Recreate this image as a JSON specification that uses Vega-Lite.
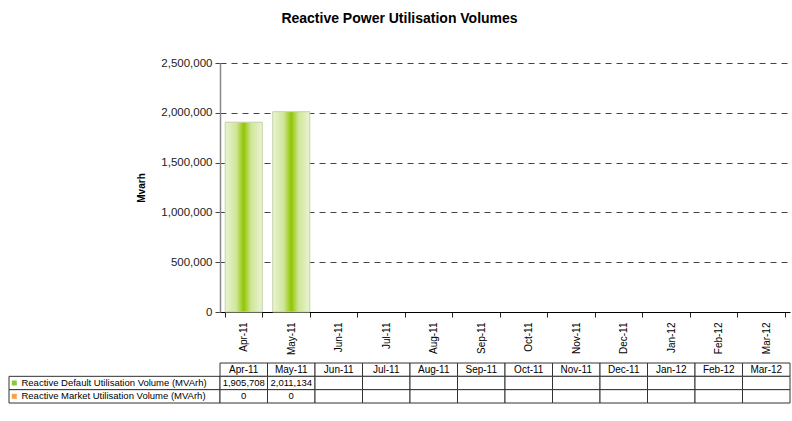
{
  "$schema": "https://vega.github.io/schema/vega-lite/v6.json",
  "padding": {"left": 8, "top": 12, "right": 2, "bottom": 4},
  "background": "white",
  "title": {"text": "Reactive Power Utilisation Volumes", "fontSize": 14, "fontWeight": "bold", "anchor": "middle", "frame": "bounds", "color": "#000", "offset": 31},
  "datasets": {
    "months": [
      {"month": "Apr-11", "default": 1905708, "market": 0},
      {"month": "May-11", "default": 2011134, "market": 0},
      {"month": "Jun-11"},
      {"month": "Jul-11"},
      {"month": "Aug-11"},
      {"month": "Sep-11"},
      {"month": "Oct-11"},
      {"month": "Nov-11"},
      {"month": "Dec-11"},
      {"month": "Jan-12"},
      {"month": "Feb-12"},
      {"month": "Mar-12"}
    ],
    "rows": [
      {"row": "default", "label": "Reactive Default Utilisation Volume (MVArh)"},
      {"row": "market", "label": "Reactive Market Utilisation Volume (MVArh)"}
    ]
  },
  "columns": 2,
  "spacing": {"column": 0, "row": 51},
  "bounds": "flush",
  "concat": [
    {
      "width": 211,
      "height": 249,
      "data": {"values": [{"t": ""}]},
      "mark": {"type": "text"},
      "encoding": {"text": {"field": "t"}}
    },
    {
      "width": 570,
      "height": 249,
      "data": {"name": "months"},
      "mark": {
        "type": "bar",
        "fill": {"gradient": "linear", "x1": 0, "y1": 0, "x2": 1, "y2": 0,
          "stops": [
            {"offset": 0, "color": "#eaf4d2"},
            {"offset": 0.3, "color": "#cfe699"},
            {"offset": 0.5, "color": "#92c500"},
            {"offset": 0.7, "color": "#cfe699"},
            {"offset": 1, "color": "#eaf4d2"}
          ]},
        "stroke": "#c6d0aa",
        "strokeWidth": 1
      },
      "encoding": {
        "x": {
          "field": "month", "type": "ordinal",
          "scale": {"domain": ["Apr-11","May-11","Jun-11","Jul-11","Aug-11","Sep-11","Oct-11","Nov-11","Dec-11","Jan-12","Feb-12","Mar-12"], "paddingInner": 0.22, "paddingOuter": 0.11},
          "axis": {"title": null, "labelAngle": -90, "tickBand": "extent", "tickSize": 5, "tickColor": "#222", "domainColor": "#000", "labelFontSize": 10, "labelPadding": 5, "labelColor": "#000", "grid": false}
        },
        "y": {
          "field": "default", "type": "quantitative",
          "scale": {"domain": [0, 2500000]},
          "axis": {"title": "Mvarh", "values": [0, 500000, 1000000, 1500000, 2000000, 2500000], "format": ",.0f", "grid": true, "gridDash": [6, 5], "gridColor": "#444", "domainColor": "#888", "domainWidth": 1.5, "tickColor": "#444", "tickSize": 5, "labelFontSize": 11.5, "labelColor": "#222", "labelPadding": 3, "titleFontSize": 10, "titleFontWeight": "bold", "titleColor": "#000", "titlePadding": 14}
        }
      }
    },
    {
      "width": 211,
      "height": 40,
      "data": {"name": "rows"},
      "encoding": {
        "y": {"field": "row", "type": "ordinal", "scale": {"domain": ["header", "default", "market"], "paddingInner": 0, "paddingOuter": 0}, "axis": null}
      },
      "layer": [
        {"mark": {"type": "rect", "fill": "white", "stroke": "#333", "strokeWidth": 1}},
        {
          "mark": {"type": "square", "size": 25, "opacity": 1, "filled": true},
          "encoding": {
            "x": {"datum": 5.5, "type": "quantitative", "scale": {"domain": [0, 211]}, "axis": null},
            "color": {"field": "row", "type": "nominal", "scale": {"domain": ["default", "market"], "range": ["#8fc63a", "#f4a24c"]}, "legend": null}
          }
        },
        {
          "mark": {"type": "text", "align": "left", "fontSize": 9.5, "color": "#000"},
          "encoding": {
            "x": {"datum": 13, "type": "quantitative"},
            "text": {"field": "label"}
          }
        }
      ]
    },
    {
      "width": 570,
      "height": 40,
      "data": {"name": "months"},
      "encoding": {
        "x": {"field": "month", "type": "ordinal", "scale": {"domain": ["Apr-11","May-11","Jun-11","Jul-11","Aug-11","Sep-11","Oct-11","Nov-11","Dec-11","Jan-12","Feb-12","Mar-12"], "paddingInner": 0, "paddingOuter": 0}, "axis": null}
      },
      "layer": [
        {
          "mark": {"type": "rect", "fill": "white", "stroke": "#333", "strokeWidth": 1},
          "encoding": {"y": {"datum": "header", "type": "ordinal", "scale": {"domain": ["header", "default", "market"], "paddingInner": 0, "paddingOuter": 0}, "axis": null}}
        },
        {
          "mark": {"type": "text", "fontSize": 10, "color": "#000"},
          "encoding": {"y": {"datum": "header", "type": "ordinal"}, "text": {"field": "month"}}
        },
        {
          "transform": [{"fold": ["default", "market"], "as": ["row", "val"]}],
          "mark": {"type": "rect", "fill": "white", "stroke": "#333", "strokeWidth": 1},
          "encoding": {"y": {"field": "row", "type": "ordinal"}}
        },
        {
          "transform": [{"fold": ["default", "market"], "as": ["row", "val"]}, {"filter": "isValid(datum.val)"}],
          "mark": {"type": "text", "fontSize": 9.5, "color": "#000"},
          "encoding": {"y": {"field": "row", "type": "ordinal"}, "text": {"field": "val", "type": "quantitative", "format": ",.0f"}}
        }
      ]
    }
  ],
  "config": {
    "font": "Liberation Sans",
    "view": {"stroke": null},
    "axis": {"labelFont": "Liberation Sans", "titleFont": "Liberation Sans"}
  }
}
